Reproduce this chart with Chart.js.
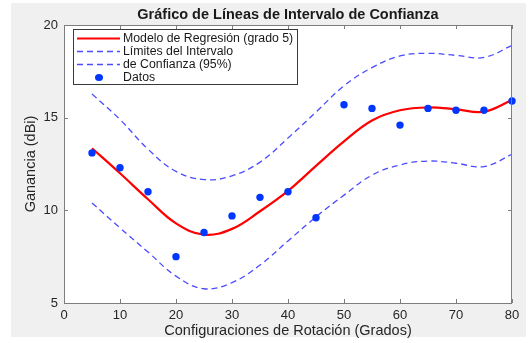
<!DOCTYPE html>
<html lang="es">
<head>
    <meta charset="UTF-8">
    <title>Gráfico de Líneas de Intervalo de Confianza</title>
    <style>
        body {
            margin: 0;
            background: #ffffff;
            overflow: hidden; /* no scrollbars */
        }
        #wrap {
            position: relative;
            width: 529px;
            height: 343px;
        }
    </style>
</head>
<body>
    <div id="wrap">
        <canvas id="ciChart" width="529" height="343"></canvas>
    </div>

    <script src="https://cdn.jsdelivr.net/npm/chart.js"></script>
    <script>
        // Rotation settings (degrees) and measured gain (dBi)
        const grados = [5, 10, 15, 20, 25, 30, 35, 40, 45, 50, 55, 60, 65, 70, 75, 80];
        const ganancia = [13.1, 12.3, 11.0, 7.5, 8.8, 9.7, 10.7, 11.0, 9.6, 15.7, 15.5, 14.6, 15.5, 15.4, 15.4, 15.9];

        // Degree-5 regression curve and 95% confidence bounds, sampled at the same angles
        const modelo = [13.35, 12.0, 10.6, 9.3, 8.69, 9.0, 9.95, 11.05, 12.4, 13.72, 14.85, 15.4, 15.55, 15.45, 15.32, 15.95];
        const limiteSup = [16.28, 14.9, 13.3, 12.1, 11.66, 11.86, 12.6, 13.9, 15.3, 16.72, 17.7, 18.33, 18.47, 18.36, 18.25, 18.9];
        const limiteInf = [10.4, 9.05, 7.75, 6.45, 5.77, 6.1, 7.05, 8.35, 9.65, 10.82, 11.9, 12.45, 12.66, 12.54, 12.36, 13.02];

        const xTicks = [0, 10, 20, 30, 40, 50, 60, 70, 80];
        const yTicks = [5, 10, 15, 20];

        const FONT = '"Liberation Sans", Arial, Helvetica, sans-serif';
        const toPoints = (ys) => grados.map((g, i) => ({ x: g, y: ys[i] }));

        // Grey figure background and white axes area
        const backdrop = {
            id: 'backdrop',
            beforeDraw(chart) {
                const { ctx, chartArea: a } = chart;
                ctx.save();
                ctx.fillStyle = '#f0f0f0';
                ctx.fillRect(11, 3, 515, 334);
                ctx.fillStyle = '#ffffff';
                ctx.fillRect(a.left, a.top, a.right - a.left, a.bottom - a.top);
                ctx.restore();
            }
        };

        // Axes box with inward ticks on all four sides, plus the title
        const axesBox = {
            id: 'axesBox',
            afterDraw(chart) {
                const { ctx, chartArea: a, scales } = chart;
                const len = 4;
                ctx.save();
                ctx.strokeStyle = '#7d7d7d';
                ctx.lineWidth = 1;
                ctx.beginPath();
                scales.x.ticks.forEach(t => {
                    const px = Math.round(scales.x.getPixelForValue(t.value)) + 0.5;
                    ctx.moveTo(px, a.bottom); ctx.lineTo(px, a.bottom - len);
                    ctx.moveTo(px, a.top); ctx.lineTo(px, a.top + len);
                });
                scales.y.ticks.forEach(t => {
                    const py = Math.round(scales.y.getPixelForValue(t.value)) + 0.5;
                    ctx.moveTo(a.left, py); ctx.lineTo(a.left + len, py);
                    ctx.moveTo(a.right, py); ctx.lineTo(a.right - len, py);
                });
                ctx.stroke();
                ctx.strokeRect(a.left + 0.5, a.top + 0.5, a.right - a.left - 1, a.bottom - a.top);

                ctx.fillStyle = '#1a1a1a';
                ctx.font = 'bold 14.5px ' + FONT;
                ctx.textAlign = 'center';
                ctx.textBaseline = 'middle';
                ctx.fillText('Gráfico de Líneas de Intervalo de Confianza', (a.left + a.right) / 2, 15);
                ctx.restore();
            }
        };

        // Legend box in the upper-left corner of the axes
        const legendBox = {
            id: 'legendBox',
            afterDraw(chart) {
                const { ctx } = chart;
                const x0 = 73, y0 = 29, w = 224, h = 55;
                const rowY = [38.5, 51.5, 64.5, 77.5];
                ctx.save();
                ctx.fillStyle = '#ffffff';
                ctx.fillRect(x0, y0, w, h);
                ctx.strokeStyle = '#3a3a3a';
                ctx.lineWidth = 1;
                ctx.strokeRect(x0 + 0.5, y0 + 0.5, w, h);

                chart.data.datasets.forEach((ds, i) => {
                    const y = rowY[i];
                    ctx.save();
                    if (ds.showLine === false) {
                        ctx.fillStyle = ds.backgroundColor;
                        ctx.beginPath();
                        ctx.ellipse(99, y, 4, 3.5, 0, 0, Math.PI * 2);
                        ctx.fill();
                    } else {
                        ctx.strokeStyle = ds.borderColor;
                        ctx.lineWidth = ds.borderWidth;
                        ctx.setLineDash(ds.borderDash || []);
                        ctx.beginPath();
                        ctx.moveTo(77, y);
                        ctx.lineTo(120, y);
                        ctx.stroke();
                    }
                    ctx.restore();
                    ctx.fillStyle = '#1a1a1a';
                    ctx.font = '12.3px ' + FONT;
                    ctx.textAlign = 'left';
                    ctx.textBaseline = 'middle';
                    ctx.fillText(ds.label, 123, y);
                });
                ctx.restore();
            }
        };

        new Chart(document.getElementById('ciChart'), {
            type: 'line',
            data: {
                datasets: [
                    {
                        label: 'Modelo de Regresión (grado 5)',
                        data: toPoints(modelo),
                        borderColor: '#ff0000',
                        borderWidth: 2.2,
                        pointRadius: 0,
                        tension: 0.4,
                        order: 2
                    },
                    {
                        label: 'Límites del Intervalo',
                        data: toPoints(limiteSup),
                        borderColor: '#4b4bff',
                        borderWidth: 1.3,
                        borderDash: [6, 4],
                        pointRadius: 0,
                        tension: 0.4,
                        order: 3
                    },
                    {
                        label: 'de Confianza (95%)',
                        data: toPoints(limiteInf),
                        borderColor: '#4b4bff',
                        borderWidth: 1.3,
                        borderDash: [6, 4],
                        pointRadius: 0,
                        tension: 0.4,
                        order: 4
                    },
                    {
                        label: 'Datos',
                        data: toPoints(ganancia),
                        showLine: false,
                        backgroundColor: '#0036ff',
                        borderColor: '#0036ff',
                        borderWidth: 0,
                        pointRadius: 3.7,
                        clip: 6,
                        order: 1
                    }
                ]
            },
            options: {
                responsive: false,
                animation: false,
                layout: { padding: { top: 25, right: 17, left: 0, bottom: 0 } },
                plugins: {
                    legend: { display: false },
                    tooltip: { enabled: false }
                },
                scales: {
                    x: {
                        type: 'linear',
                        min: 0,
                        max: 80,
                        afterBuildTicks: s => { s.ticks = xTicks.map(v => ({ value: v })); },
                        afterFit: s => { s.height = 40; },
                        grid: { display: false, drawTicks: false },
                        border: { display: false },
                        ticks: { color: '#262626', padding: 5, font: { family: FONT, size: 13 } },
                        title: {
                            display: true,
                            text: 'Configuraciones de Rotación (Grados)',
                            color: '#262626',
                            font: { family: FONT, size: 14.5 },
                            padding: { top: 0, bottom: 3 }
                        }
                    },
                    y: {
                        min: 5,
                        max: 20,
                        afterBuildTicks: s => { s.ticks = yTicks.map(v => ({ value: v })); },
                        afterFit: s => { s.width = 64; },
                        grid: { display: false, drawTicks: false },
                        border: { display: false },
                        ticks: { color: '#262626', padding: 6, font: { family: FONT, size: 13 } },
                        title: {
                            display: true,
                            text: 'Ganancia (dBi)',
                            color: '#262626',
                            font: { family: FONT, size: 14.5 },
                            padding: { top: 22, bottom: 0 }
                        }
                    }
                }
            },
            plugins: [backdrop, axesBox, legendBox]
        });
    </script>
</body>
</html>
